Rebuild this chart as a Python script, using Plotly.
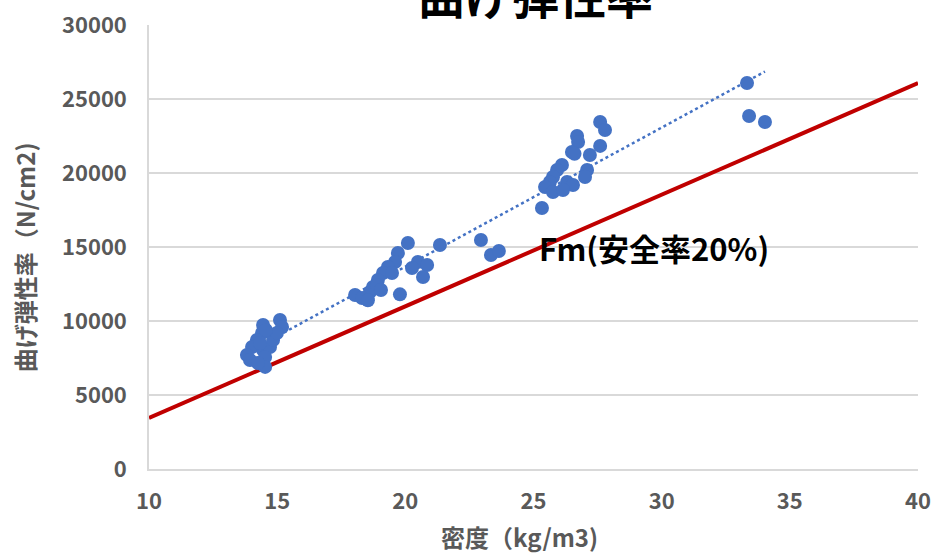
import numpy as np
import plotly.graph_objects as go

# measured samples: density (kg/m3) and flexural modulus (N/cm2)
density = [
    14.45, 15.11, 15.19, 14.41, 14.21, 14.02, 13.82, 13.94, 14.45, 14.72, 14.53, 14.53,
    14.84, 14.99, 14.25, 14.33, 14.56,
    20.10, 19.71, 19.60, 19.32, 19.13, 18.93, 18.74, 18.62, 18.04, 18.31, 18.54, 18.89,
    19.48, 19.79, 20.49, 20.85, 20.26, 20.69, 21.35, 19.05,
    22.95, 23.34, 23.65,
    27.60, 27.79, 26.70, 26.74, 26.50, 27.60, 27.20, 26.11, 25.92, 27.09, 27.01, 25.76,
    26.31, 25.64, 25.45, 26.54, 25.76, 26.15, 25.33, 26.60,
    33.33, 33.41, 34.03,
]
modulus = [
    9730, 10068, 9595, 9190, 8717, 8244, 7703, 7365, 8041, 8244, 7568, 6900,
    8717, 9190, 7162, 8514, 9392,
    15271, 14595, 13987, 13649, 13244, 12771, 12298, 11960, 11757, 11554, 11400, 12433,
    13244, 11800, 13987, 13784, 13582, 12973, 15136, 12095,
    15474, 14460, 14730,
    23447, 22906, 22500, 22095, 21420, 21830, 21217, 20541, 20203, 20203, 19730, 19730,
    19392, 19392, 19054, 19190, 18717, 18852, 17636, 21300,
    26082, 23852, 23447,
]

# Fm (safety factor 20%) design line
fm_x = [10, 40]
fm_y = [3450, 26080]

title_text = "曲げ弾性率"
x_title = "密度（kg/m3)"
y_title = "曲げ弾性率（N/cm2)"
fm_label = "Fm(安全率20%)"

x_ticks = [10, 15, 20, 25, 30, 35, 40]
y_ticks = [0, 5000, 10000, 15000, 20000, 25000, 30000]

# linear trendline of the samples (as in the spreadsheet)
coef = np.polyfit(density, modulus, 1)
tx = np.array([min(density), max(density)])
ty = np.polyval(coef, tx)

FONT = "Noto Sans CJK JP"
BLUE = "#4472C4"
GRAY = "#595959"

fig = go.Figure()
fig.add_trace(go.Scatter(x=fm_x, y=fm_y, mode="lines",
                         line=dict(color="#C00000", width=4), hoverinfo="skip"))
fig.add_trace(go.Scatter(x=tx, y=ty, mode="lines",
                         line=dict(color=BLUE, width=2.5, dash="dot"), hoverinfo="skip"))
fig.add_trace(go.Scatter(x=density, y=modulus, mode="markers",
                         marker=dict(color=BLUE, size=14, line=dict(width=0))))

fig.update_layout(
    width=936, height=553,
    margin=dict(l=149, r=18, t=25, b=84),
    plot_bgcolor="white", paper_bgcolor="white",
    showlegend=False,
    font=dict(family=FONT, color=GRAY, size=22),
)
fig.update_xaxes(range=[10, 40], tickvals=x_ticks, ticktext=[str(v) for v in x_ticks],
                 showgrid=False, zeroline=False, automargin=False,
                 showline=True, linecolor="#D9D9D9", linewidth=1.5,
                 ticks="", ticklabelstandoff=12,
                 tickfont=dict(family=FONT, size=22, color=GRAY, weight="bold"))
fig.update_yaxes(range=[0, 30000], tickvals=y_ticks, ticktext=[str(v) for v in y_ticks],
                 showgrid=True, gridcolor="#D9D9D9", automargin=False,
                 gridwidth=1.5, zeroline=False, showline=True, linecolor="#D9D9D9",
                 linewidth=1.5, ticks="", ticklabelstandoff=16,
                 tickfont=dict(family=FONT, size=22, color=GRAY, weight="bold"))

fig.add_annotation(text=title_text, xref="paper", yref="paper", x=0.503, y=1.072,
                   xanchor="center", yanchor="middle", showarrow=False,
                   font=dict(family=FONT, size=47, color="black", weight="bold"))
fig.add_annotation(text=x_title, xref="paper", yref="paper", x=0.482, y=-0.151,
                   xanchor="center", yanchor="middle", showarrow=False,
                   font=dict(family=FONT, size=24, color=GRAY, weight="bold"))
fig.add_annotation(text=y_title, xref="paper", yref="paper", x=-0.1625, y=0.477,
                   xanchor="center", yanchor="middle", showarrow=False, textangle=-90,
                   font=dict(family=FONT, size=24, color=GRAY, weight="bold"))
fig.add_annotation(text=fm_label, xref="x", yref="y", x=25.15, y=14933,
                   xanchor="left", yanchor="middle", showarrow=False,
                   font=dict(family=FONT, size=31, color="black", weight="bold"))

fig.write_html("out.html")
